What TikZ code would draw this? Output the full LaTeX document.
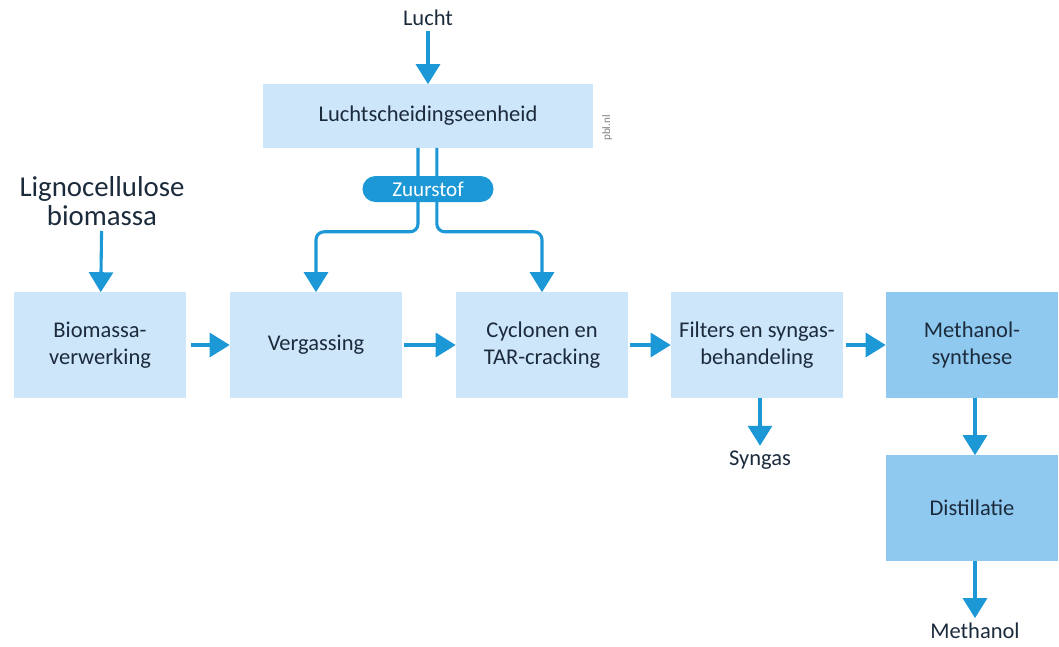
\documentclass[tikz,border=0pt]{standalone}
\usepackage{fontspec}
\setmainfont{Carlito}
\usetikzlibrary{arrows.meta}
\definecolor{procfill}{HTML}{CDE6F9}
\definecolor{procdark}{HTML}{8FC9F0}
\definecolor{flowblue}{HTML}{1B98D5}
\definecolor{txt}{HTML}{1C2B3C}

\begin{document}
\begin{tikzpicture}[x=0.025cm, y=0.025cm,
  proc/.style={fill=procfill, minimum width=4.3cm, minimum height=2.625cm,
    inner sep=0pt, align=center, text=txt, font=\fontsize{16}{19.5}\selectfont},
  procdark/.style={proc, fill=procdark},
  lbl/.style={text=txt, align=center, font=\fontsize{16}{19.5}\selectfont},
  flow/.style={draw=flowblue, line width=2.2pt,
    -{Triangle[width=0.6cm, length=0.5cm]}}]
  \useasboundingbox (0,0) rectangle (1059,-646);

  % top: air separation
  \node[lbl] (lucht) at (428,-18) {Lucht};
  \node[proc, minimum width=8.25cm, minimum height=1.575cm] (lsd) at (428,-116) {Luchtscheidingseenheid};
  \node[rotate=90, text=gray, font=\fontsize{8}{9}\selectfont] (pbl) at (607,-128) {pbl.nl};

  \node[lbl, font=\fontsize{20.5}{21}\selectfont] (ligno) at (102,-201) {Lignocellulose\\biomassa};

  % main row
  \node[proc] (bio) at (100,-345) {Biomassa-\\verwerking};
  \node[proc] (verg) at (316,-345) {Vergassing};
  \node[proc] (cycl) at (542,-345) {Cyclonen en\\TAR-cracking};
  \node[proc] (filt) at (757,-345) {Filters en syngas-\\behandeling};
  \node[procdark] (meth) at (972,-345) {Methanol-\\synthese};
  \node[procdark] (dist) at (972,-508) {Distillatie};

  \node[lbl] (syngas) at (760,-460) {Syngas};
  \node[lbl] (methanol) at (975,-631) {Methanol};

  % oxygen lines
  \draw[flow, rounded corners=0.2cm] ([xshift=-0.25cm]lsd.south) -- ++(0,-84) -| (verg.north);
  \draw[flow, rounded corners=0.2cm] ([xshift=0.22cm]lsd.south) -- ++(0,-84) -| (cycl.north);
  \node[fill=flowblue, text=white, rounded corners=0.325cm, minimum width=3.275cm,
    minimum height=0.65cm, inner sep=0pt, font=\fontsize{15}{19}\selectfont] (zuur) at (428,-189) {Zuurstof};

  \draw[flow] (lucht) -- (lsd);
  \draw[flow] (ligno) -- (bio);
  \draw[flow, shorten <=0.125cm] (bio) -- (verg);
  \draw[flow, shorten <=0.05cm] (verg) -- (cycl);
  \draw[flow, shorten <=0.05cm] (cycl) -- (filt);
  \draw[flow, shorten <=0.075cm] (filt) -- (meth);
  \draw[flow] (filt.south -| syngas) -- (syngas);
  \draw[flow] ([xshift=0.075cm]meth.south) -- ([xshift=0.075cm]dist.north);
  \draw[flow] (dist.south -| methanol) -- (methanol);
\end{tikzpicture}
\end{document}
